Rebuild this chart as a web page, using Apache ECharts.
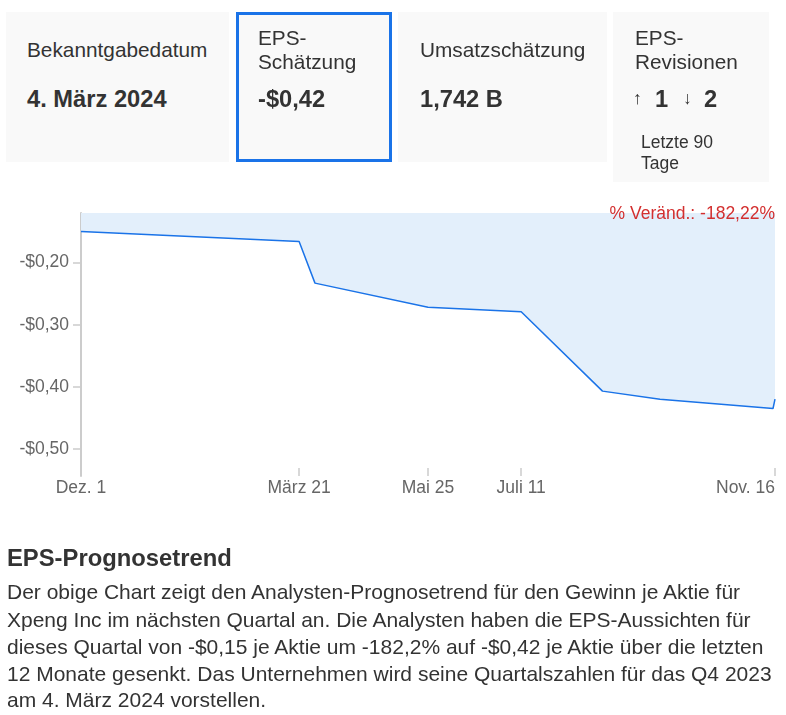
<!DOCTYPE html>
<html><head><meta charset="utf-8">
<script src="https://cdn.jsdelivr.net/npm/echarts@6/dist/echarts.min.js"></script>
<style>
html,body{margin:0;padding:0;background:#fff;}
#wrap{position:relative;width:786px;height:715px;overflow:hidden;font-family:Arial,"Liberation Sans",sans-serif;color:#333;}
#chart{position:absolute;left:0;top:0;width:786px;height:715px;}
.card{position:absolute;background:#f9f9f9;box-sizing:border-box;}
.t{position:absolute;white-space:nowrap;}
.lbl{font-size:20.8px;line-height:24px;height:24px;}
.val{font-size:23.7px;font-weight:bold;line-height:28px;height:28px;}
.p{font-size:21px;line-height:27px;height:27px;left:7px;}
</style></head><body>
<div id="wrap">
 <div id="chart"></div>
 <div class="card" style="left:6px;top:12px;width:223px;height:150px;"></div>
 <div class="card" style="left:236px;top:12px;width:156px;height:150px;border:3px solid #1a73e8;"></div>
 <div class="card" style="left:398px;top:12px;width:209px;height:150px;"></div>
 <div class="card" style="left:613px;top:12px;width:156px;height:170px;"></div>

 <div class="t lbl" style="left:27px;top:38px;">Bekanntgabedatum</div>
 <div class="t val" style="left:27px;top:85px;">4. März 2024</div>

 <div class="t lbl" style="left:258px;top:26px;">EPS-</div>
 <div class="t lbl" style="left:258px;top:50px;">Schätzung</div>
 <div class="t val" style="left:258px;top:85px;">-$0,42</div>

 <div class="t lbl" style="left:420px;top:38px;">Umsatzschätzung</div>
 <div class="t val" style="left:420px;top:85px;">1,742 B</div>

 <div class="t lbl" style="left:635px;top:26px;">EPS-</div>
 <div class="t lbl" style="left:635px;top:50px;">Revisionen</div>
 <div class="t" style="left:633px;top:88px;font-size:17.5px;line-height:21px;">↑</div>
 <div class="t val" style="left:655px;top:85px;">1</div>
 <div class="t" style="left:683px;top:88px;font-size:17.5px;line-height:21px;">↓</div>
 <div class="t val" style="left:704px;top:85px;">2</div>
 <div class="t" style="left:641px;top:131px;font-size:17.5px;line-height:22px;">Letzte 90</div>
 <div class="t" style="left:641px;top:152px;font-size:17.5px;line-height:22px;">Tage</div>

 <div class="t" style="left:7px;top:544px;font-size:23.8px;font-weight:bold;line-height:28px;">EPS-Prognosetrend</div>
 <div class="t p" style="top:578px;">Der obige Chart zeigt den Analysten-Prognosetrend für den Gewinn je Aktie für</div>
 <div class="t p" style="top:606px;">Xpeng Inc im nächsten Quartal an. Die Analysten haben die EPS-Aussichten für</div>
 <div class="t p" style="top:633px;">dieses Quartal von -$0,15 je Aktie um -182,2% auf -$0,42 je Aktie über die letzten</div>
 <div class="t p" style="top:660px;">12 Monate gesenkt. Das Unternehmen wird seine Quartalszahlen für das Q4 2023</div>
 <div class="t p" style="top:686px;">am 4. März 2024 vorstellen.</div>
</div>
<script>
const revisionDates = ['2022-12-01','2023-03-21','2023-03-29','2023-05-25','2023-07-11','2023-08-21','2023-09-19','2023-11-15','2023-11-16'];
const epsEstimates = [-0.150,-0.166,-0.233,-0.272,-0.279,-0.407,-0.420,-0.435,-0.420];
const xTickDates = ['2022-12-01','2023-03-21','2023-05-25','2023-07-11','2023-11-16'];
const xTickLabels = ['Dez. 1','März 21','Mai 25','Juli 11','Nov. 16'];
const yTickValues = [-0.5,-0.4,-0.3,-0.2];
const changeLabel = '% Veränd.: -182,22%';

function ts(s){const p=s.split('-').map(Number);return Date.UTC(p[0],p[1]-1,p[2]);}
const xTicks = xTickDates.map(ts);
const labelMap = {};
xTicks.forEach((t,i)=>{labelMap[t]=xTickLabels[i];});
const seriesData = revisionDates.map((d,i)=>[ts(d),epsEstimates[i]]);

const chart = echarts.init(document.getElementById('chart'), null, {renderer:'canvas'});
const font = 'Arial, "Liberation Sans", sans-serif';
chart.setOption({
  animation:false,
  textStyle:{fontFamily:font},
  title:{text:changeLabel,right:11,top:204,padding:0,
    textStyle:{color:'#d32f2f',fontSize:17.5,fontWeight:'normal',fontFamily:font,lineHeight:20}},
  grid:{left:81,right:11,top:213,bottom:239,containLabel:false},
  xAxis:{type:'value',min:ts('2022-12-01'),max:ts('2023-11-16'),
    axisLine:{show:false},
    axisTick:{show:true,inside:true,length:8,customValues:xTicks,lineStyle:{color:'#ccc',width:1.5}},
    axisLabel:{customValues:xTicks,formatter:function(v){return labelMap[v]||'';},color:'#666',fontSize:17.5,margin:3,
      alignMaxLabel:'right',showMinLabel:true,showMaxLabel:true,hideOverlap:false,fontFamily:font},
    splitLine:{show:false}},
  yAxis:{type:'value',min:-0.54375,max:-0.12,
    axisLine:{show:true,lineStyle:{color:'#ccc',width:2}},
    axisTick:{show:true,length:8,customValues:yTickValues,lineStyle:{color:'#ccc',width:1.5}},
    axisLabel:{customValues:yTickValues,formatter:function(v){return '-$'+Math.abs(v).toFixed(2).replace('.',',');},
      color:'#666',fontSize:17.5,margin:12,fontFamily:font},
    splitLine:{show:false}},
  series:[{type:'line',data:seriesData,symbol:'none',
    lineStyle:{color:'#1a73e8',width:1.5},
    areaStyle:{origin:'end',color:'#e3effb',opacity:1}}]
});
</script>
</body></html>
